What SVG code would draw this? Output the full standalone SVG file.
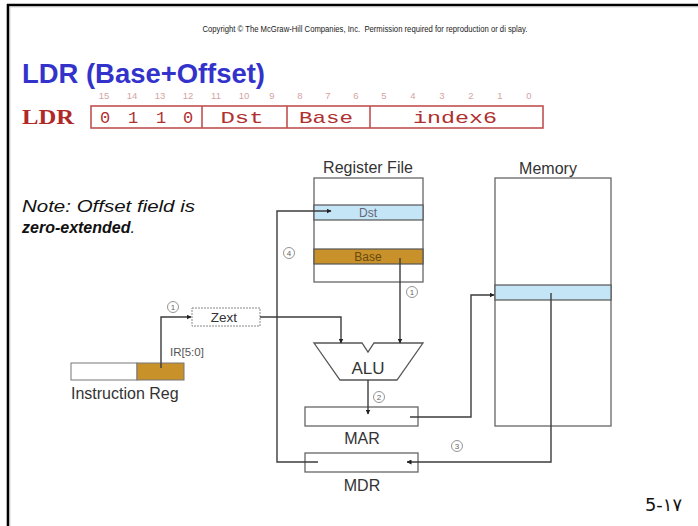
<svg xmlns="http://www.w3.org/2000/svg" width="698" height="526" viewBox="0 0 698 526">
  <style>
    .sans { font-family: "Liberation Sans", Arial, sans-serif; }
    .lbl { font-family: "Liberation Sans", Arial, sans-serif; font-size: 16px; fill: #333; }
    .fmt { font-family: "Liberation Mono", "Courier New", monospace; font-size: 17px; fill: #b03030; }
    .bit { font-family: "Liberation Sans", Arial, sans-serif; font-size: 9.5px; fill: #d4a4a4; text-anchor: middle; }
    .wire { fill: none; stroke: #3c3c3c; stroke-width: 1.4; }
    .step circle { fill: #fff; stroke: #888; stroke-width: 0.9; }
    .step text { font-family: "Liberation Sans", Arial, sans-serif; font-size: 8px; fill: #666; text-anchor: middle; }
    .box { fill: #fff; stroke: #666; stroke-width: 1.3; }
  </style>
  <defs>
    <marker id="arr" viewBox="0 0 10 10" refX="9" refY="5" markerWidth="5" markerHeight="5" orient="auto" markerUnits="userSpaceOnUse">
      <path d="M0,0 L10,5 L0,10 z" fill="#222"/>
    </marker>
  </defs>

  <rect x="0" y="0" width="698" height="526" fill="#fff"/>

  <!-- slide frame -->
  <g id="frame">
    <line x1="7" y1="5" x2="698" y2="5" stroke="#000" stroke-width="2.6"/>
    <line x1="8" y1="4" x2="8" y2="526" stroke="#000" stroke-width="2.6"/>
    <line x1="9.5" y1="6.8" x2="698" y2="6.8" stroke="#bbb" stroke-width="1"/>
    <line x1="9.8" y1="6.8" x2="9.8" y2="526" stroke="#bbb" stroke-width="1"/>
  </g>

  <text x="365" y="32" class="sans" font-size="9" fill="#222" text-anchor="middle" textLength="325" lengthAdjust="spacingAndGlyphs" xml:space="preserve">Copyright © The McGraw-Hill Companies, Inc.  Permission required for reproduction or di splay.</text>

  <text x="22" y="83" class="sans" font-size="28" font-weight="bold" fill="#3333cc" textLength="243" lengthAdjust="spacingAndGlyphs">LDR (Base+Offset)</text>

  <!-- instruction format -->
  <g id="format">
    <text x="22" y="124" font-family="'Liberation Serif', 'Times New Roman', serif" font-size="21" font-weight="bold" fill="#b02828" textLength="52" lengthAdjust="spacingAndGlyphs">LDR</text>
    <g class="bit">
      <text x="104" y="99">15</text><text x="132" y="99">14</text><text x="160" y="99">13</text><text x="188" y="99">12</text>
      <text x="216" y="99">11</text><text x="244" y="99">10</text><text x="272" y="99">9</text>
      <text x="300" y="99">8</text><text x="328" y="99">7</text><text x="356" y="99">6</text>
      <text x="384" y="99">5</text><text x="413" y="99">4</text><text x="442" y="99">3</text><text x="471" y="99">2</text><text x="500" y="99">1</text><text x="529" y="99">0</text>
    </g>
    <rect x="91" y="106" width="452" height="22" fill="#fff" stroke="#c05050" stroke-width="1.6"/>
    <line x1="202" y1="106" x2="202" y2="128" stroke="#c05050" stroke-width="1.6"/>
    <line x1="287" y1="106" x2="287" y2="128" stroke="#c05050" stroke-width="1.6"/>
    <line x1="370" y1="106" x2="370" y2="128" stroke="#c05050" stroke-width="1.6"/>
    <g class="fmt" text-anchor="middle">
      <text x="105" y="123">0</text><text x="133" y="123">1</text><text x="161" y="123">1</text><text x="188" y="123">0</text>
      <text x="242" y="123" textLength="43" lengthAdjust="spacingAndGlyphs">Dst</text>
      <text x="326" y="123" textLength="54" lengthAdjust="spacingAndGlyphs">Base</text>
      <text x="455" y="123" textLength="84" lengthAdjust="spacingAndGlyphs">index6</text>
    </g>
  </g>

  <!-- note -->
  <g id="note" class="sans" font-size="16" fill="#111" font-style="italic">
    <text x="22" y="212" textLength="173" lengthAdjust="spacingAndGlyphs">Note: Offset field is</text>
    <text x="22" y="233"><tspan font-weight="bold">zero-extended</tspan>.</text>
  </g>

  <!-- register file -->
  <g id="register-file">
    <text x="368" y="173" class="lbl" text-anchor="middle">Register File</text>
    <rect x="314" y="178" width="109" height="104" class="box"/>
    <rect x="314" y="205" width="109" height="15" fill="#c3e5f5" stroke="#555" stroke-width="1.2"/>
    <text x="368" y="217" class="sans" font-size="12" fill="#667" text-anchor="middle">Dst</text>
    <rect x="314" y="249" width="109" height="15" fill="#c8912a" stroke="#555" stroke-width="1.2"/>
    <text x="368" y="261" class="sans" font-size="12" fill="#6b4a10" text-anchor="middle">Base</text>
  </g>

  <!-- memory -->
  <g id="memory">
    <text x="548" y="174" class="lbl" font-size="17" text-anchor="middle">Memory</text>
    <rect x="495" y="178" width="116" height="248" class="box"/>
    <rect x="495" y="285" width="116" height="15" fill="#c3e5f5" stroke="#555" stroke-width="1.2"/>
  </g>

  <!-- instruction register -->
  <g id="instruction-reg">
    <rect x="71" y="363" width="66" height="17" fill="#fff" stroke="#777" stroke-width="1"/>
    <rect x="137" y="363" width="47" height="17" fill="#c8912a" stroke="#777" stroke-width="1"/>
    <text x="71" y="399" class="lbl">Instruction Reg</text>
    <text x="170" y="356" class="sans" font-size="11.5" fill="#555">IR[5:0]</text>
  </g>

  <!-- zero-extend unit -->
  <g id="zext">
    <rect x="192" y="308" width="68" height="18" fill="#fff" stroke="#888" stroke-width="1" stroke-dasharray="2 1"/>
    <text x="224" y="322" class="sans" font-size="13.5" fill="#333" text-anchor="middle">Zext</text>
  </g>

  <!-- ALU -->
  <g id="alu">
    <polygon points="314,343 362,343 368,352 374,343 423,343 397,380 340,380" fill="#fff" stroke="#555" stroke-width="1.3"/>
    <text x="368" y="374" class="sans" font-size="17" fill="#333" text-anchor="middle">ALU</text>
  </g>

  <!-- MAR / MDR -->
  <g id="mar">
    <rect x="305" y="407" width="113" height="19" class="box"/>
    <text x="362" y="444" class="lbl" text-anchor="middle">MAR</text>
  </g>
  <g id="mdr">
    <rect x="305" y="453" width="113" height="19" class="box"/>
    <text x="362" y="491" class="lbl" text-anchor="middle">MDR</text>
  </g>

  <!-- data paths -->
  <g id="connectors" class="wire">
    <!-- IR[5:0] to Zext -->
    <polyline points="161,368 161,317 191,317" marker-end="url(#arr)"/>
    <!-- Zext to ALU -->
    <polyline points="260,317 341,317 341,343" marker-end="url(#arr)"/>
    <!-- Base to ALU -->
    <polyline points="400,258 400,343" marker-end="url(#arr)"/>
    <!-- ALU to MAR -->
    <polyline points="368,380 368,414" marker-end="url(#arr)"/>
    <!-- MAR to Memory -->
    <polyline points="410,417 471,417 471,295 494,295" marker-end="url(#arr)"/>
    <!-- Memory to MDR -->
    <polyline points="551,293 551,462 407,462" marker-end="url(#arr)"/>
    <!-- MDR to Dst -->
    <polyline points="318,462 277,462 277,211 331,211" marker-end="url(#arr)"/>
  </g>

  <!-- step numbers -->
  <g id="steps" class="step">
    <circle cx="173" cy="307" r="5.5"/><text x="173" y="310">1</text>
    <circle cx="412" cy="292" r="5.5"/><text x="412" y="295">1</text>
    <circle cx="379" cy="397" r="5.5"/><text x="379" y="400">2</text>
    <circle cx="457" cy="446" r="5.5"/><text x="457" y="449">3</text>
    <circle cx="289" cy="253" r="5.5"/><text x="289" y="256">4</text>
  </g>

  <text x="645" y="511" font-family="'DejaVu Sans', 'Noto Sans', sans-serif" font-size="18" fill="#111" textLength="37" lengthAdjust="spacingAndGlyphs">5-۱۷</text>
</svg>
